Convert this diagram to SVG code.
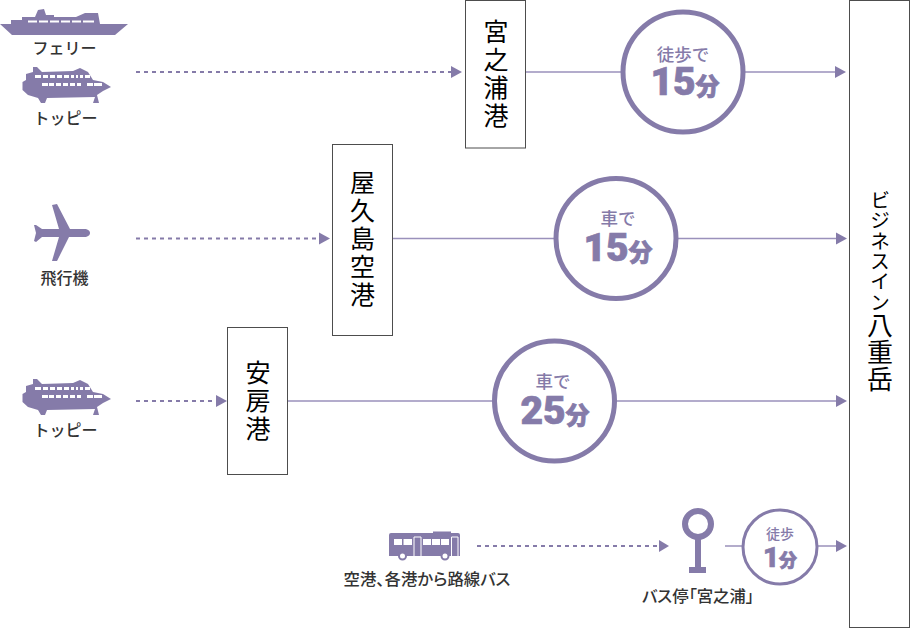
<svg xmlns="http://www.w3.org/2000/svg" width="910" height="628" viewBox="0 0 910 628">
<style>
.box{fill:#fff;stroke:#4d4d4d;stroke-width:1}
.v{font-family:"Noto Sans CJK JP","Noto Sans CJK SC",sans-serif;font-size:25px;fill:#000;writing-mode:vertical-rl;text-anchor:middle;letter-spacing:3px}
.lab{font-family:"Noto Sans CJK JP",sans-serif;font-size:16px;font-weight:500;fill:#333;text-anchor:middle}
.p{font-feature-settings:"palt";font-size:16.400px}
.c{fill:#fff;stroke:#857ba9;stroke-width:5}
.ct{font-family:"Noto Sans CJK JP",sans-serif;font-size:17.500px;font-weight:500;fill:#857ba9;text-anchor:middle}
.cn{font-family:Roboto,"Noto Sans CJK JP",sans-serif;font-size:39px;font-weight:900;fill:#857ba9;text-anchor:middle;stroke:#857ba9;stroke-width:.7}
.cu{font-size:24px;font-family:"Noto Sans CJK JP",sans-serif}
.ln{stroke:#9a91bb;stroke-width:1.600;fill:none}
.dt{stroke:#857ba9;stroke-width:2;stroke-dasharray:4 4;fill:none}
.ar{fill:#857ba9}
.ic{fill:#857ba9}
.wh{fill:#fff}
</style>
<defs>
<g id="toppy">
<path class="ic" d="M22.500 82L26 80V74L33 72V67H37L42 72L73 71L80 68L88 72L93 80L103 82L111 87L103 91L100 93L97 95L99 103H93L95 97L47 98L45 103H41L38 98L28 95L22.500 90Z"/>
<path class="wh" d="M35 75h6v3h-6zM43 75h5v3h-5zM50 75h5v3h-5zM57 75h5v3h-5zM64 75h5v3h-5zM71 75h3v3h-3zM76 75h2v3h-2zM80 75h3v3h-3zM85 75h5v3h-5zM42 83h6v3h-6zM49 83h5v3h-5zM56 83h5v3h-5zM63 83h5v3h-5zM70 83h5v3h-5zM77 83h4v3h-4zM87 83h6v3h-6zM94 83h8v3h-8z"/>
</g>
</defs>
<g id="connectors">
<path class="dt" d="M136 72H451"/><path class="ar" d="M451 66L462 72L451 78Z"/>
<path class="ln" d="M526 72H836"/><path class="ar" d="M835 66L846 72L835 78Z"/>
<path class="dt" d="M136 238.500H318"/><path class="ar" d="M319 232.500L330 238.500L319 244.500Z"/>
<path class="ln" d="M393 238.500H836"/><path class="ar" d="M836 232.500L847 238.500L836 244.500Z"/>
<path class="dt" d="M136 401H216"/><path class="ar" d="M216 395L227 401L216 407Z"/>
<path class="ln" d="M288 401H837"/><path class="ar" d="M836 395L847 401L836 407Z"/>
<path class="dt" d="M477 546H659"/><path class="ar" d="M659 540L669 546L659 552Z"/>
<path class="ln" d="M725 546H745M815 546H837"/><path class="ar" d="M836 540L847 546L836 552Z"/>
</g>
<g id="ferry">
<path class="ic" d="M0 24H11V20H22V17H35L38 10L44 9L46 15H54V17H76L85 13H98L100 24H128L115 35H12Z"/>
<path class="wh" d="M28 20.500h9v2h-9zM39 20.500h9v2h-9zM50 20.500h9v2h-9zM61 20.500h9v2h-9zM72 20.500h9v2h-9zM83 20.500h11v2h-11z"/>
<text class="lab" x="64.500" y="54">フェリー</text>
</g>
<g id="toppy1"><use href="#toppy"/><text class="lab" x="65.500" y="123.500">トッピー</text></g>
<g id="plane">
<path class="ic" d="M52 205L57 204L70 229H84C88 229 90 231 90 233C90 235 88 237 84 237H69L57 261L52 261L59 237H42L36 242L34 241L36 233L34 225L36 225L42 229H59Z"/>
<text class="lab" x="64.500" y="284">飛行機</text>
</g>
<g id="toppy2"><use href="#toppy" y="312"/><text class="lab" x="65.500" y="435.500">トッピー</text></g>
<g id="bus">
<path class="ic" d="M391 533H433V531.500H451V533H458Q460 533 460 535V556H389V535Q389 533 391 533Z"/>
<path class="wh" d="M394 539h8v6h-8zM403.500 539h8.500v6h-8.500zM423 539h8v6h-8zM432 539h8v6h-8zM441 539h8v6h-8z"/>
<path d="M414 556V537H421V556M451.500 556V537H458V556" fill="none" stroke="#fff" stroke-width="1"/>
<circle cx="402.500" cy="556" r="3.500" fill="#fff" stroke="#857ba9" stroke-width="2"/>
<circle cx="445" cy="556" r="3.500" fill="#fff" stroke="#857ba9" stroke-width="2"/>
<text class="lab p" x="427" y="585">空港、各港から路線バス</text>
</g>
<g id="busstop">
<circle cx="698" cy="524" r="13" fill="#fff" stroke="#857ba9" stroke-width="6"/>
<path class="ic" d="M695 537H701V567H706V573H689V567H695Z"/>
<text class="lab p" x="698" y="602">バス停「宮之浦」</text>
</g>
<g id="n-miyanoura"><rect class="box" x="465.500" y="0.500" width="60" height="147.500"/><text class="v" x="496" y="75">宮之浦港</text></g>
<g id="n-yakushima"><rect class="box" x="332.500" y="144.500" width="60" height="191"/><text class="v" x="362.500" y="240">屋久島空港</text></g>
<g id="n-anbo"><rect class="box" x="227.500" y="327.500" width="60" height="147"/><text class="v" x="258" y="402">安房港</text></g>
<g id="n-hotel"><rect class="box" x="849.500" y="0.500" width="60" height="627"/><text class="v" x="880" y="292" style="font-size:20px;letter-spacing:.3px">ビジネスイン<tspan style="font-size:26px;letter-spacing:1px">八重岳</tspan></text></g>
<g id="t1"><circle class="c" cx="683" cy="72" r="60"/><text class="ct" x="683" y="61">徒歩で</text><text class="cn" x="685" y="95">15<tspan class="cu">分</tspan></text></g>
<g id="t2"><circle class="c" cx="616" cy="238.500" r="60"/><text class="ct" x="618" y="225">車で</text><text class="cn" x="618" y="261">15<tspan class="cu">分</tspan></text></g>
<g id="t3"><circle class="c" cx="554.500" cy="401" r="60"/><text class="ct" x="553" y="388">車で</text><text class="cn" x="555" y="424">25<tspan class="cu">分</tspan></text></g>
<g id="t4"><circle class="c" style="stroke-width:3" cx="780" cy="547" r="37"/><text class="ct" x="780" y="539" style="font-size:14px">徒歩</text><text class="cn" x="780" y="567" style="font-size:28px">1<tspan class="cu" style="font-size:18px">分</tspan></text></g>
</svg>
